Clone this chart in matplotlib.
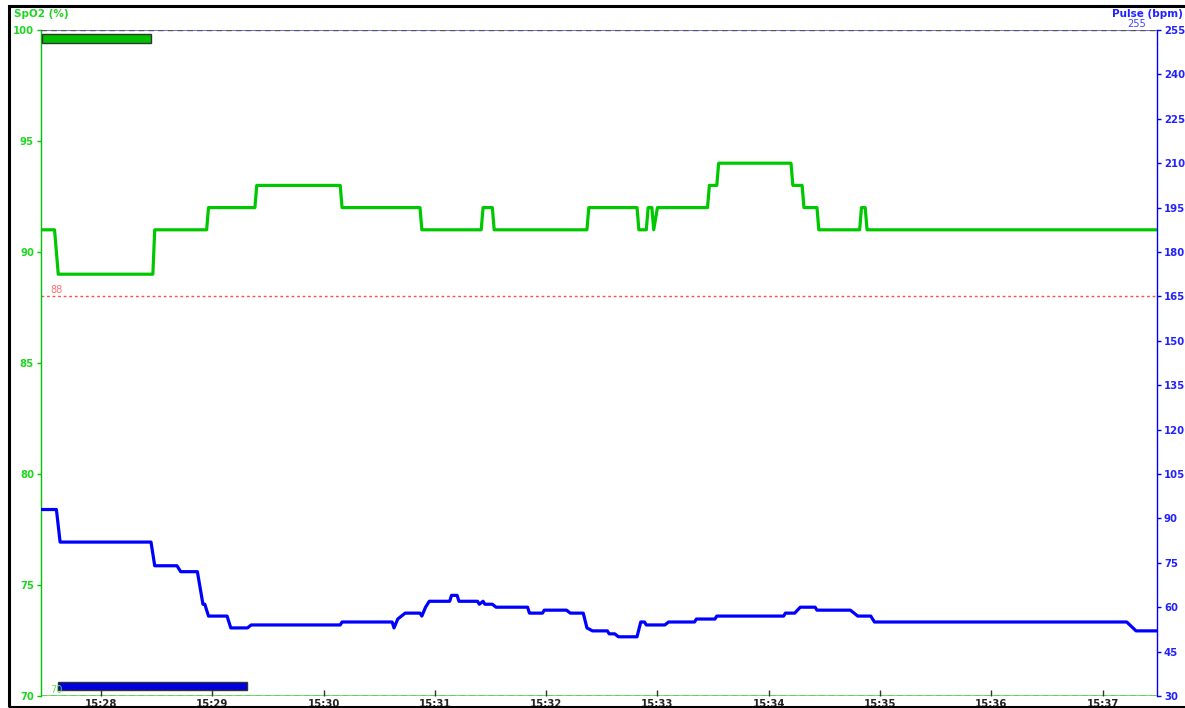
import matplotlib
matplotlib.use("Agg")
import matplotlib.pyplot as plt
import matplotlib.dates as mdates
import matplotlib.patches as patches
import pandas as pd

plt.rcParams['font.family'] = ['DejaVu Sans']

DAY = "2024-01-01 "

# SpO2 readings (%)
spo2_time = ["15:27:28", "15:27:35", "15:27:37", "15:28:28", "15:28:29", "15:28:57",
             "15:28:58", "15:29:23", "15:29:24", "15:30:09", "15:30:10", "15:30:52",
             "15:30:53", "15:31:25", "15:31:26", "15:31:31", "15:31:32", "15:32:22",
             "15:32:23", "15:32:49", "15:32:50", "15:32:54", "15:32:55", "15:32:57",
             "15:32:58", "15:33:00", "15:33:27", "15:33:28", "15:33:32", "15:33:33",
             "15:34:12", "15:34:13", "15:34:18", "15:34:19", "15:34:26", "15:34:27",
             "15:34:49", "15:34:50", "15:34:52", "15:34:53", "15:37:30"]
spo2_value = [91, 91, 89, 89, 91, 91,
              92, 92, 93, 93, 92, 92,
              91, 91, 92, 92, 91, 91,
              92, 92, 91, 91, 92, 92,
              91, 92, 92, 93, 93, 94,
              94, 93, 93, 92, 92, 91,
              91, 92, 92, 91, 91]

# pulse readings (bpm)
pulse_time = ["15:27:28", "15:27:36", "15:27:38", "15:28:27", "15:28:29", "15:28:41",
              "15:28:43", "15:28:52", "15:28:55", "15:28:56", "15:28:58", "15:29:08",
              "15:29:10", "15:29:19", "15:29:21", "15:30:09", "15:30:10", "15:30:37",
              "15:30:38", "15:30:40", "15:30:44", "15:30:52", "15:30:53", "15:30:55",
              "15:30:57", "15:31:08", "15:31:09", "15:31:12", "15:31:13", "15:31:23",
              "15:31:24", "15:31:26", "15:31:27", "15:31:31", "15:31:33", "15:31:50",
              "15:31:51", "15:31:58", "15:31:59", "15:32:11", "15:32:13", "15:32:20",
              "15:32:22", "15:32:25", "15:32:33", "15:32:34", "15:32:37", "15:32:39",
              "15:32:49", "15:32:51", "15:32:53", "15:32:54", "15:33:04", "15:33:06",
              "15:33:20", "15:33:21", "15:33:31", "15:33:32", "15:34:08", "15:34:09",
              "15:34:14", "15:34:17", "15:34:25", "15:34:26", "15:34:44", "15:34:46",
              "15:34:48", "15:34:55", "15:34:57", "15:37:13", "15:37:18", "15:37:30"]
pulse_value = [93, 93, 82, 82, 74, 74,
               72, 72, 61, 61, 57, 57,
               53, 53, 54, 54, 55, 55,
               53, 56, 58, 58, 57, 60,
               62, 62, 64, 64, 62, 62,
               61, 62, 61, 61, 60, 60,
               58, 58, 59, 59, 58, 58,
               53, 52, 52, 51, 51, 50,
               50, 55, 55, 54, 54, 55,
               55, 56, 56, 57, 57, 58,
               58, 60, 60, 59, 59, 58,
               57, 57, 55, 55, 52, 52]

# event markers: (start, end, low, high) in SpO2 units
spo2_event = ("15:27:28", "15:28:27", 99.4, 99.8)
pulse_event = ("15:27:37", "15:29:19", 70.25, 70.65)

spo2_alarm = 88
spo2_range = (70, 100)
pulse_range = (30, 255)
x_range = ("15:27:27.7", "15:37:29.3")

GREEN = '#00c800'
GREEN_TXT = '#22d422'
BLUE = '#0000ff'
BLUE_TXT = '#2222ff'


def to_dt(ts):
    return pd.to_datetime([DAY + t for t in ts])


fig = plt.figure(figsize=(11.85, 7.08), dpi=100, facecolor='white')
ax = fig.add_axes([41 / 1185, 1 - 696 / 708, (1157 - 41) / 1185, 666 / 708])
ax2 = ax.twinx()

x0, x1 = to_dt(x_range)
ax.set_xlim(x0, x1)
ax.set_ylim(*spo2_range)
ax2.set_ylim(*pulse_range)

# limit lines along top and bottom
ax.axhline(spo2_range[0], color='#55e055', lw=1.2, zorder=1)
ax.axhline(spo2_range[0], color='#555555', lw=1, ls=(0, (4, 3)), zorder=1.1)
ax2.axhline(pulse_range[1], color='#5555ff', lw=1.2, zorder=1)
ax2.axhline(pulse_range[1], color='#555555', lw=1, ls=(0, (4, 3)), zorder=1.1)

# alarm line
ax.axhline(spo2_alarm, color='#ff4d4d', lw=1, ls=(0, (2, 2)))
ax.text(x0 + pd.Timedelta(seconds=5), spo2_alarm + 0.05, str(spo2_alarm),
        color='#ff6f6f', fontsize=7, va='bottom', ha='left')
ax.text(x0 + pd.Timedelta(seconds=5), spo2_range[0] + 0.05, str(spo2_range[0]),
        color='#66dd66', fontsize=7, va='bottom', ha='left', zorder=5)
ax2.text(x1 - pd.Timedelta(seconds=11), pulse_range[1] + 0.3, str(pulse_range[1]),
         color='#4444ff', fontsize=7, va='bottom', ha='center')

# event bars
for (s, e, lo, hi), col in [(spo2_event, '#00c000'), (pulse_event, '#0000dd')]:
    s_num, e_num = mdates.date2num(to_dt([s, e]))
    ax.add_patch(patches.Rectangle((s_num, lo), e_num - s_num, hi - lo,
                                   facecolor=col, edgecolor='#333333', lw=1, zorder=4))

ax.plot(to_dt(spo2_time), spo2_value, color=GREEN, lw=2.3, zorder=3)
ax2.plot(to_dt(pulse_time), pulse_value, color=BLUE, lw=2.3, zorder=3)

# axes styling
for a in (ax, ax2):
    for side in ('top', 'bottom'):
        a.spines[side].set_visible(False)
ax2.spines['left'].set_visible(False)
ax.spines['right'].set_visible(False)
ax.spines['left'].set_color(GREEN)
ax.spines['left'].set_linewidth(1)
ax2.spines['right'].set_color(BLUE)
ax2.spines['right'].set_linewidth(1)

ax.set_yticks(range(70, 101, 5))
ax.tick_params(axis='y', colors=GREEN, labelcolor=GREEN_TXT, length=3, width=1,
               labelsize=7.3, pad=2)
ax2.set_yticks(range(30, 256, 15))
ax2.tick_params(axis='y', colors=BLUE, labelcolor=BLUE_TXT, length=3, width=1,
                labelsize=7.3, pad=2)
for lab in ax.get_yticklabels() + ax2.get_yticklabels():
    lab.set_fontweight('bold')

ax.xaxis.set_major_locator(mdates.MinuteLocator())
ax.xaxis.set_major_formatter(mdates.DateFormatter('%H:%M'))
ax.tick_params(axis='x', direction='in', length=4, width=1, colors='#333333',
               labelcolor='#222222', labelsize=7.3, pad=2)
for lab in ax.get_xticklabels():
    lab.set_fontweight('bold')

fig.text(14 / 1185, 1 - 14 / 708, "SpO2 (%)", color=GREEN_TXT, fontsize=7.5,
         fontweight='bold', va='center', ha='left')
fig.text(1183 / 1185, 1 - 14 / 708, "Pulse (bpm)", color=BLUE_TXT, fontsize=7.5,
         fontweight='bold', va='center', ha='right')

# outer frame
fig.add_artist(patches.Rectangle((8.5 / 1185, 1 / 708), 1.2, 1 - 6.5 / 708,
                                 transform=fig.transFigure, fill=False,
                                 edgecolor='black', lw=2.2, clip_on=False))

fig.savefig('out.png', dpi=100)
